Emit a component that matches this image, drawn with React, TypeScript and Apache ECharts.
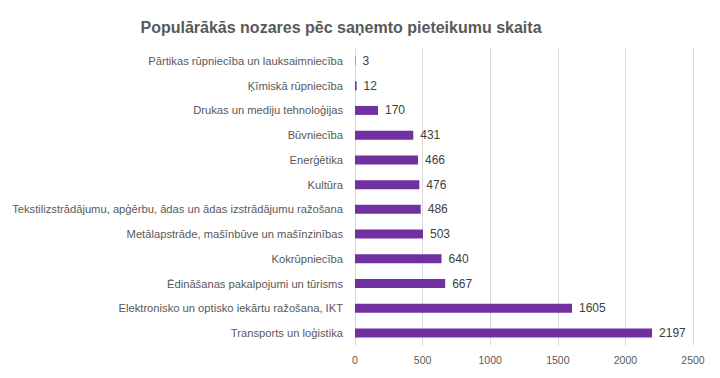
import React, { useEffect, useRef } from "react";
import * as echarts from "echarts";

const title = "Populārākās nozares pēc saņemto pieteikumu skaita";
const categories = [
  "Pārtikas rūpniecība un lauksaimniecība",
  "Ķīmiskā rūpniecība",
  "Drukas un mediju tehnoloģijas",
  "Būvniecība",
  "Enerģētika",
  "Kultūra",
  "Tekstilizstrādājumu, apģērbu, ādas un ādas izstrādājumu ražošana",
  "Metālapstrāde, mašīnbūve un mašīnzinības",
  "Kokrūpniecība",
  "Ēdināšanas pakalpojumi un tūrisms",
  "Elektronisko un optisko iekārtu ražošana, IKT",
  "Transports un loģistika",
];
const values = [3, 12, 170, 431, 466, 476, 486, 503, 640, 667, 1605, 2197];
const xTicks = [0, 500, 1000, 1500, 2000, 2500];

const FONT = "'Liberation Sans', Arial, sans-serif";

export default function App() {
  const ref = useRef<HTMLDivElement>(null);
  useEffect(() => {
    const chart = echarts.init(ref.current!, undefined, { renderer: "svg" });
    chart.setOption({
      animation: false,
      backgroundColor: "#ffffff",
      title: {
        text: title,
        left: 336,
        textAlign: "center",
        top: 14,
        textStyle: { fontFamily: FONT, fontSize: 16, fontWeight: "bold", color: "#595959" },
      },
      graphic: [
        {
          type: "rect",
          shape: { x: 2.5, y: 1.5, width: 730, height: 374 },
          style: { fill: "none", stroke: "#d9d9d9", lineWidth: 1 },
          silent: true,
        },
      ],
      grid: { left: 355, right: 27, top: 48.6, bottom: 32.6, outerBoundsMode: "none", containLabel: false },
      xAxis: {
        type: "value",
        min: xTicks[0],
        max: xTicks[xTicks.length - 1],
        interval: 500,
        axisLine: { show: false },
        axisTick: { show: false },
        axisLabel: { fontFamily: FONT, fontSize: 10.5, color: "#595959", margin: 9, formatter: (v: number) => String(v) },
        splitLine: { show: true, lineStyle: { color: "#d9d9d9", width: 1 } },
      },
      yAxis: {
        type: "category",
        data: categories,
        inverse: true,
        axisLine: { show: false },
        axisTick: { show: false },
        axisLabel: { fontFamily: FONT, fontSize: 11.2, color: "#595959", margin: 12 },
      },
      series: [
        {
          type: "bar",
          data: values,
          barWidth: 9,
          itemStyle: { color: "#7030A0" },
          label: {
            show: true,
            position: "right",
            distance: 7,
            fontFamily: FONT,
            fontSize: 12,
            color: "#404040",
          },
        },
      ],
    });
    return () => chart.dispose();
  }, []);
  return <div ref={ref} style={{ width: 720, height: 378, margin: -8 }} />;
}
